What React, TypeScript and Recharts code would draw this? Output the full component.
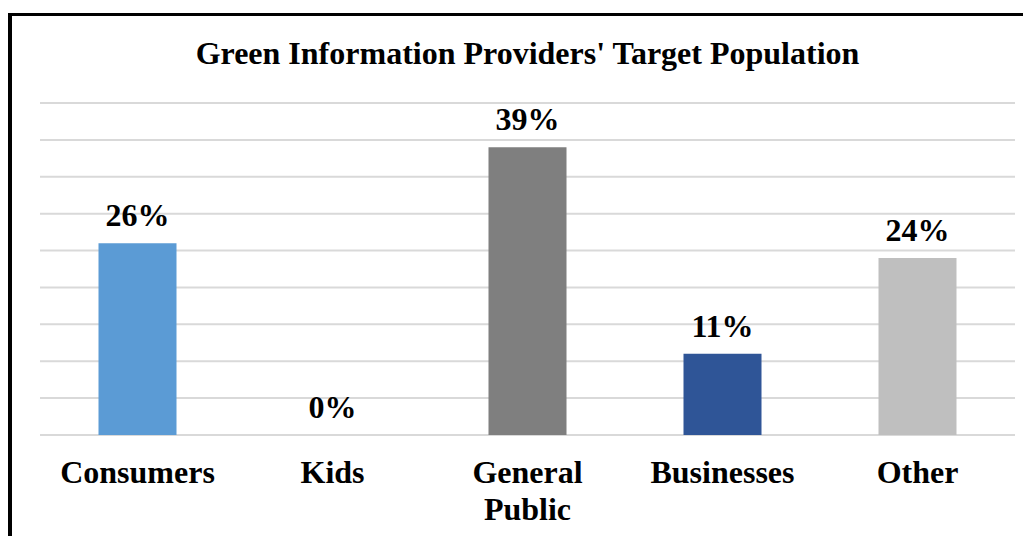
import React from "react";
import { ComposedChart, Bar, Line, XAxis, YAxis, CartesianGrid, Cell, LabelList } from "recharts";

const categories = ["Consumers", "Kids", "General Public", "Businesses", "Other"];
const shares = [26, 0, 39, 11, 24];
const colors = ["#5B9BD5", "#A5A5A5", "#7F7F7F", "#2F5597", "#BFBFBF"];
const yTicks = [0, 5, 10, 15, 20, 25, 30, 35, 40, 45];

const data = categories.map((c, i) => ({ name: c, value: shares[i] }));

const FONT = "'Liberation Serif', 'Times New Roman', serif";

const Tick = (props: any) => {
  const { x, y, payload } = props;
  const lines = String(payload.value).split(" ");
  return (
    <text x={x} y={y} textAnchor="middle" fontFamily={FONT} fontWeight="bold" fontSize={32} fill="#000">
      {lines.map((l, i) => (
        <tspan key={i} x={x} dy={i === 0 ? 48 : 37}>
          {l}
        </tspan>
      ))}
    </text>
  );
};

export default function App() {
  return (
    <div style={{ paddingTop: 5 }}>
      <style>{"html,body{overflow:hidden;}"}</style>
      <div
        style={{
          position: "relative",
          borderTop: "3px solid #000",
          borderLeft: "4px solid #000",
          width: 1019,
          height: 530,
          background: "#fff",
        }}
      >
        <div
          style={{
            position: "absolute",
            left: 28,
            width: 975,
            top: 18,
            textAlign: "center",
            fontFamily: FONT,
            fontWeight: "bold",
            fontSize: 32,
            lineHeight: "38px",
            color: "#000",
          }}
        >
          Green Information Providers' Target Population
        </div>
        <ComposedChart
          width={1019}
          height={510}
          data={data}
          margin={{ top: 87, right: 16, left: 28, bottom: 0 }}
          barCategoryGap="30%"
        >
          <CartesianGrid vertical={false} stroke="#D9D9D9" strokeWidth={2} />
          <YAxis hide domain={[0, 45]} ticks={yTicks} />
          <XAxis
            dataKey="name"
            height={91}
            axisLine={false}
            tickLine={false}
            tickSize={0}
            tickMargin={0}
            interval={0}
            tick={<Tick />}
          />
          <Bar dataKey="value" isAnimationActive={false}>
            {data.map((d, i) => (
              <Cell key={d.name} fill={colors[i]} />
            ))}
          </Bar>
          <Line
            dataKey="value"
            stroke="none"
            dot={false}
            activeDot={false}
            isAnimationActive={false}
          >
            <LabelList
              dataKey="value"
              position="top"
              offset={17}
              formatter={(v: any) => `${v}%`}
              fontFamily={FONT}
              fontWeight="bold"
              fontSize={32}
              fill="#000"
            />
          </Line>
        </ComposedChart>
      </div>
    </div>
  );
}
